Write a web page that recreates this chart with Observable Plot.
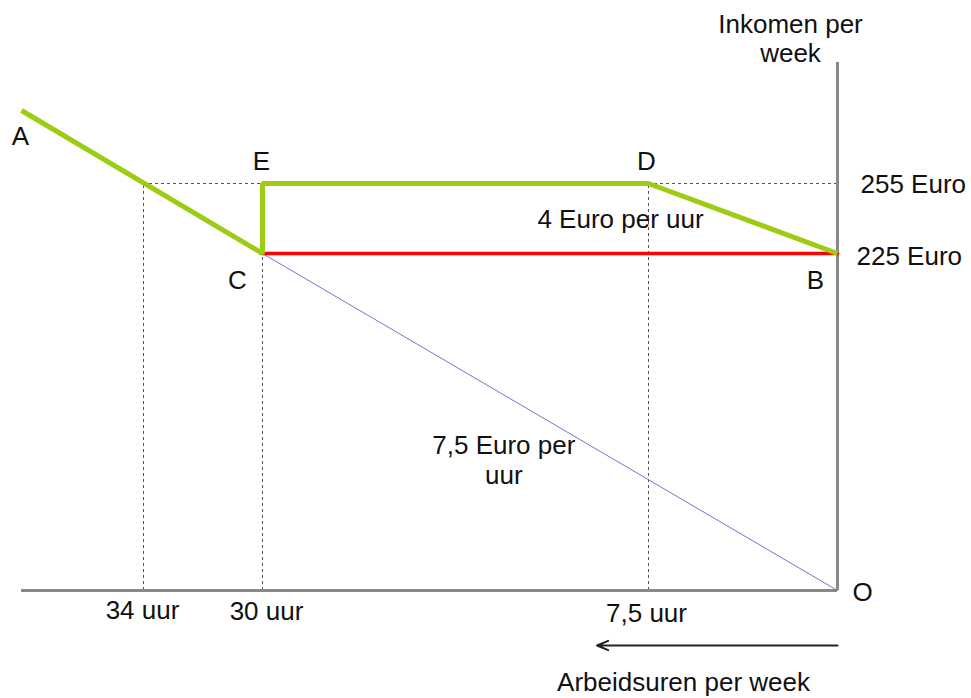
<!DOCTYPE html>
<html><head><meta charset="utf-8">
<script src="https://cdn.jsdelivr.net/npm/d3@7"></script>
<script src="https://cdn.jsdelivr.net/npm/@observablehq/plot@0.6"></script>
<style>body{margin:0;background:#fff}svg{display:block}</style>
</head><body><div id="chart"></div>
<script>
// ---- data (hours of work per week, income per week in euro) ----
const pointNames  = ["A", "C", "E", "D", "B", "O"];
const pointHours  = [38, 30, 30, 7.5, 0, 0];
const pointIncome = [285, 225, 255, 255, 225, 0];

// budget line with the subsidy (A-C-E-D-B)
const greenPath = ["A", "C", "E", "D", "B"];
// minimum income line (C-B)
const redPath = ["C", "B"];
// wage line 7,5 euro per hour (C-O)
const bluePath = ["C", "O"];

// x tick marks (hours) with the income height of their guide line
const xTicks = [34, 30, 7.5];
const xTickLabels = ["34 uur", "30 uur", "7,5 uur"];
const xGuideTop = [255, 225, 255];

// y tick marks (euro)
const yTicks = [255, 225];
const yTickLabels = ["255 Euro", "225 Euro"];

// horizontal guides at 255 euro
const hGuideFrom = [34, 7.5];
const hGuideTo = [30, 0];

// axis extents
const xAxisExtent = [38, 0];
const yAxisExtent = [0, 307];

// arrow under the x axis (direction of more hours)
const arrowFrom = [0];
const arrowTo = [10.5];

// annotation texts
const slopeLabels = ["4 Euro per uur", "7,5 Euro per\nuur"];
const yTitle = "Inkomen per\nweek";
const xTitle = "Arbeidsuren per week";

// ---- derived tables ----
const pts = pointNames.map((n, i) => ({name: n, h: pointHours[i], e: pointIncome[i]}));
const byName = Object.fromEntries(pts.map(p => [p.name, p]));
const pathOf = names => names.map(n => byName[n]);

// label offsets (style/position only)
const labelOffset = {A: [-1, 26], C: [-25, 27], E: [-1, -22], D: [-2, -22], B: [-22, 27], O: [25, 2]};
const xTickOffset = [[-1, 20], [4, 21], [-2, 23]];
const yTickOffset = [[23, 1], [19, 3]];

const font = "Liberation Sans, Arial, sans-serif";
const fs = 26;

const chart = Plot.plot({
  width: 971,
  height: 698,
  margin: 0,
  x: {type: "linear", domain: [38, 34, 30, 7.5, 0], range: [21, 143, 262, 648, 837], axis: null},
  y: {type: "linear", domain: [0, 225, 255, 285, 307], range: [590, 253, 183, 110, 62], axis: null},
  style: {fontFamily: font, background: "#fff"},
  marks: [
    // dotted guides
    Plot.ruleX(xTicks.map((h, i) => ({h, top: xGuideTop[i]})), {x: "h", y1: 0, y2: "top", stroke: "#555", strokeWidth: 1, strokeDasharray: "3,3"}),
    Plot.ruleY(hGuideFrom.map((f, i) => ({f, t: hGuideTo[i]})), {y: 255, x1: "f", x2: "t", stroke: "#555", strokeWidth: 1, strokeDasharray: "3,3"}),
    // axes
    Plot.ruleY([0], {x1: xAxisExtent[0], x2: xAxisExtent[1], stroke: "#888", strokeWidth: 3}),
    Plot.ruleX([0], {y1: yAxisExtent[0], y2: yAxisExtent[1], stroke: "#888", strokeWidth: 3}),
    // lines
    Plot.line(pathOf(bluePath), {x: "h", y: "e", stroke: "#7474cc", strokeWidth: 1}),
    Plot.line(pathOf(redPath), {x: "h", y: "e", stroke: "#ff0000", strokeWidth: 3.5}),
    Plot.line(pathOf(greenPath), {x: "h", y: "e", stroke: "#9ccc14", strokeWidth: 5, strokeLinejoin: "miter", strokeLinecap: "butt"}),
    // arrow
    Plot.arrow(arrowFrom.map((a, i) => ({a, b: arrowTo[i]})), {x1: "a", x2: "b", y1: 0, y2: 0, dy: 55, stroke: "#222", strokeWidth: 2, headLength: 9, headAngle: 45}),
    // point labels
    ...pts.map(p => Plot.text([p], {x: "h", y: "e", text: "name", dx: labelOffset[p.name][0], dy: labelOffset[p.name][1], fontSize: fs, fill: "#111"})),
    // x tick labels
    ...xTicks.map((h, i) => Plot.text([xTickLabels[i]], {x: h, y: 0, text: d => d, dx: xTickOffset[i][0], dy: xTickOffset[i][1], fontSize: fs, fill: "#111"})),
    // y tick labels
    ...yTicks.map((e, i) => Plot.text([yTickLabels[i]], {x: 0, y: e, text: d => d, textAnchor: "start", dx: yTickOffset[i][0], dy: yTickOffset[i][1], fontSize: fs, fill: "#111"})),
    // slope labels
    Plot.text([slopeLabels[0]], {x: byName.D.h, y: byName.D.e, text: d => d, dx: -28, dy: 36, fontSize: fs, fill: "#111"}),
    Plot.text([slopeLabels[1]], {x: (byName.C.h + byName.O.h) / 2, y: (byName.C.e + byName.O.e) / 2, text: d => d, dx: -16, dy: 37, fontSize: fs, lineHeight: 1.15, fill: "#111"}),
    // axis titles
    Plot.text([yTitle], {x: 0, y: yAxisExtent[1], text: d => d, dx: -47, dy: -24, fontSize: fs, lineHeight: 1.08, fill: "#111"}),
    Plot.text([xTitle], {x: 0, y: 0, text: d => d, dx: -154, dy: 92, fontSize: fs, fill: "#111"})
  ]
});
document.getElementById("chart").appendChild(chart);
</script>
</body></html>
